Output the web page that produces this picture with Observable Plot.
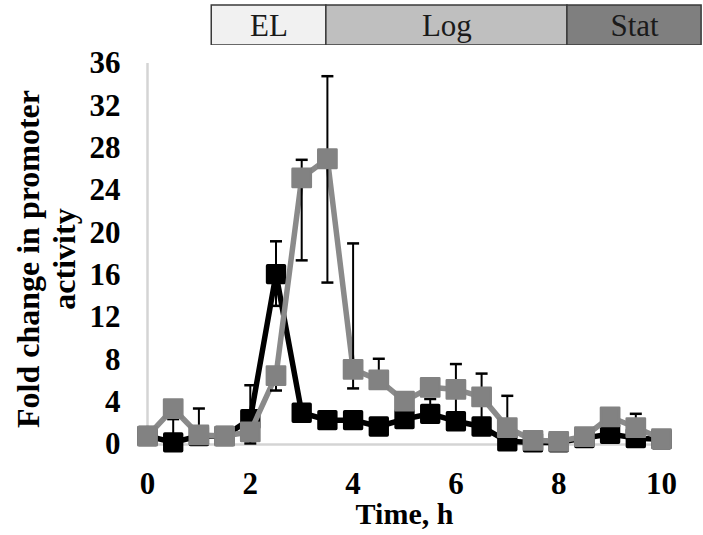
<!DOCTYPE html>
<html>
<head>
<meta charset="utf-8">
<script src="https://cdn.jsdelivr.net/npm/d3@7"></script>
<script src="https://cdn.jsdelivr.net/npm/@observablehq/plot@0.6"></script>
<style>
  html, body { margin: 0; padding: 0; background: #fff; }
  #chart svg { display: block; }
</style>
</head>
<body>
<div id="chart"></div>
<script>
// ---- data ----
const time = [0, 0.5, 1, 1.5, 2, 2.5, 3, 3.5, 4, 4.5, 5, 5.5, 6, 6.5, 7, 7.5, 8, 8.5, 9, 9.5, 10];
const grayMean  = [0.8, 3.4, 0.9, 0.8, 1.2, 6.5, 25.2, 27.0, 7.1, 6.1, 4.1, 5.4, 5.2, 4.5, 1.6, 0.4, 0.3, 0.75, 2.6, 1.6, 0.55];
const grayUp    = [0, 0, 2.5, 0, 0, 0, 1.7, 7.8, 11.9, 2.0, 0, 0, 2.4, 2.2, 3.0, 0, 0, 0, 0, 1.3, 0];
const grayDown  = [0, 0, 0, 0, 0, 1.4, 7.8, 11.7, 1.8, 0, 0, 0, 2.4, 2.2, 0, 0, 0, 0, 0, 0, 0];
const blackMean = [0.8, 0.2, 0.8, 0.8, 2.4, 16.1, 3.0, 2.3, 2.3, 1.7, 2.4, 2.9, 2.2, 1.7, 0.3, 0.2, 0.2, 0.6, 1.0, 0.6, 0.5];
const blackUp   = [0, 2.2, 0, 0, 3.2, 3.1, 0, 0, 0, 0, 0, 1.4, 0, 0, 0, 0, 0, 0, 0, 0, 0];
const blackDown = [0, 0, 0, 0, 2.3, 3.0, 0, 0, 0, 0, 0, 0, 0, 0, 0, 0, 0, 0, 0, 0, 0];

const phaseNames = ["EL", "Log", "Stat"];
const phaseStart = [1.25, 3.48, 8.17];
const phaseEnd   = [3.48, 8.17, 10.78];
const phaseFill  = ["#f1f1f1", "#bfbfbf", "#7f7f7f"];

const xTicks = [0, 2, 4, 6, 8, 10];
const yTicks = [0, 4, 8, 12, 16, 20, 24, 28, 32, 36];
const xTitle = "Time, h";
const yTitle = "Fold change in promoter\nactivity";

// ---- tables ----
const mk = (mean, up, down) => time.map((t, i) => ({t, v: mean[i], up: up[i], down: down[i]}));
const gray = mk(grayMean, grayUp, grayDown);
const black = mk(blackMean, blackUp, blackDown);
const phases = phaseNames.map((n, i) => ({name: n, x1: phaseStart[i], x2: phaseEnd[i], fill: phaseFill[i], mid: (phaseStart[i] + phaseEnd[i]) / 2}));

const cap = {draw(ctx) { ctx.moveTo(-6, 0); ctx.lineTo(6, 0); }};
const serif = "'Liberation Serif', 'Times New Roman', serif";

function errMarks(rows) {
  const withBar = rows.filter(d => d.up > 0 || d.down > 0);
  return [
    Plot.ruleX(withBar, {x: "t", y1: d => d.v - d.down, y2: d => d.v + d.up, stroke: "#000", strokeWidth: 2}),
    Plot.dot(rows.filter(d => d.up > 0), {x: "t", y: d => d.v + d.up, symbol: cap, stroke: "#000", strokeWidth: 2.5}),
    Plot.dot(rows.filter(d => d.down > 0), {x: "t", y: d => d.v - d.down, symbol: cap, stroke: "#000", strokeWidth: 2.5})
  ];
}

const W = 703, ML = 147, MR = 42;

const phasePlot = Plot.plot({
  width: W, height: 45,
  marginLeft: ML, marginRight: MR, marginTop: 5, marginBottom: 0,
  x: {domain: [0, 10], axis: null},
  y: {domain: [0, 1], axis: null},
  style: {fontFamily: serif, fontSize: "31px", background: "transparent"},
  marks: [
    Plot.rectY(phases, {x1: "x1", x2: "x2", y1: 0, y2: 1, fill: "fill", stroke: "#3a3a3a", strokeWidth: 1.5}),
    Plot.text(phases, {x: "mid", y: 0.5, text: "name", fill: "#1a1a1a", fontSize: 31, dy: 1})
  ]
});

const mainPlot = Plot.plot({
  width: W, height: 490,
  marginLeft: ML, marginRight: MR, marginTop: 18, marginBottom: 91,
  x: {domain: [0, 10]},
  y: {domain: [0, 36]},
  style: {fontFamily: serif, fontSize: "31px", fontWeight: "bold", color: "#000", background: "transparent"},
  marks: [
    Plot.ruleY([0], {x1: 0, x2: 10, stroke: "#d4d4d4", strokeWidth: 2.5}),
    Plot.ruleX([0], {y1: 0, y2: 36, stroke: "#d4d4d4", strokeWidth: 2.5}),
    Plot.axisX({ticks: xTicks, tickSize: 0, tickPadding: 27, label: null, fill: "#000"}),
    Plot.axisY({ticks: yTicks, tickSize: 0, tickPadding: 27, label: null, fill: "#000"}),
    Plot.line(black, {x: "t", y: "v", stroke: "#000", strokeWidth: 5.5, strokeLinejoin: "round"}),
    ...errMarks(black),
    Plot.dot(black, {x: "t", y: "v", symbol: "square", r: 9.5, fill: "#000", stroke: "#000", strokeWidth: 3.5, strokeLinejoin: "round"}),
    Plot.line(gray, {x: "t", y: "v", stroke: "#8a8a8a", strokeWidth: 5.5, strokeLinejoin: "round"}),
    ...errMarks(gray),
    Plot.dot(gray, {x: "t", y: "v", symbol: "square", r: 10.3, fill: "#828282", stroke: "#828282", strokeWidth: 2.5, strokeLinejoin: "round"}),
    Plot.text([xTitle], {text: d => d, frameAnchor: "bottom", dy: 70, lineAnchor: "middle", fontSize: 30, fontWeight: "bold", fill: "#000"}),
    Plot.text([yTitle], {text: d => d, frameAnchor: "left", textAnchor: "middle", rotate: -90, dx: -102, dy: 5, lineAnchor: "middle", lineHeight: 1.13, fontSize: 32, fontWeight: "bold", fill: "#000"})
  ]
});

const root = document.getElementById("chart");
root.appendChild(phasePlot);
root.appendChild(mainPlot);
</script>
</body>
</html>
